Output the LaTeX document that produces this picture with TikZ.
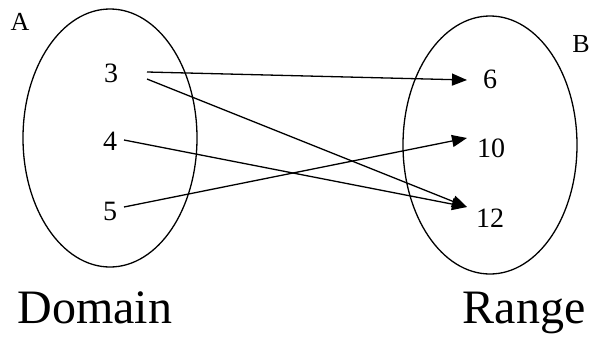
\documentclass[tikz,border=0pt]{standalone}
\usepackage{fontspec}
\setmainfont{Liberation Serif}
\usetikzlibrary{arrows.meta}
\begin{document}
\begin{tikzpicture}[x=1pt,y=-1pt,
  setline/.style={draw,line width=1.3pt},
  num/.style={font=\fontsize{28}{30}\selectfont, inner sep=0pt, anchor=base},
  lab/.style={font=\fontsize{26}{28}\selectfont, inner sep=0pt, anchor=base},
  big/.style={font=\fontsize{48}{50}\selectfont, inner sep=0pt, anchor=base},
  arr/.style={line width=1.3pt,-{Triangle[length=15pt,width=12pt]}}]
\useasboundingbox (0,0) rectangle (592,338);
% sets
\draw[setline] (110,138) ellipse [x radius=87pt, y radius=129pt];
\draw[setline] (490,145) ellipse [x radius=87pt, y radius=129pt];
% labels
\node[lab] (A) at (20,30) {A};
\node[lab] (B) at (581,52) {B};
\node[num] (n3) at (111,82) {3};
\node[num] (n4) at (110,150) {4};
\node[num] (n5) at (110,220) {5};
\node[num] (n6) at (490,88) {6};
\node[num] (n10) at (491,157) {10};
\node[num] (n12) at (490,227) {12};
\node[big] (dom) at (95,323) {Domain};
\node[big] (ran) at (524,323) {Range};
% connector ends
\coordinate (s3a) at (147,72);
\coordinate (s3b) at (147,79);
\coordinate (s4) at (124,140);
\coordinate (s5) at (124,207);
\coordinate (t6) at (467,80);
\coordinate (t10) at (467,138);
\coordinate (t12) at (467,207);
\draw[arr] (s3a) -- (t6);
\draw[arr] (s3b) -- (t12);
\draw[arr] (s4) -- (t12);
\draw[arr] (s5) -- (t10);
\end{tikzpicture}
\end{document}
